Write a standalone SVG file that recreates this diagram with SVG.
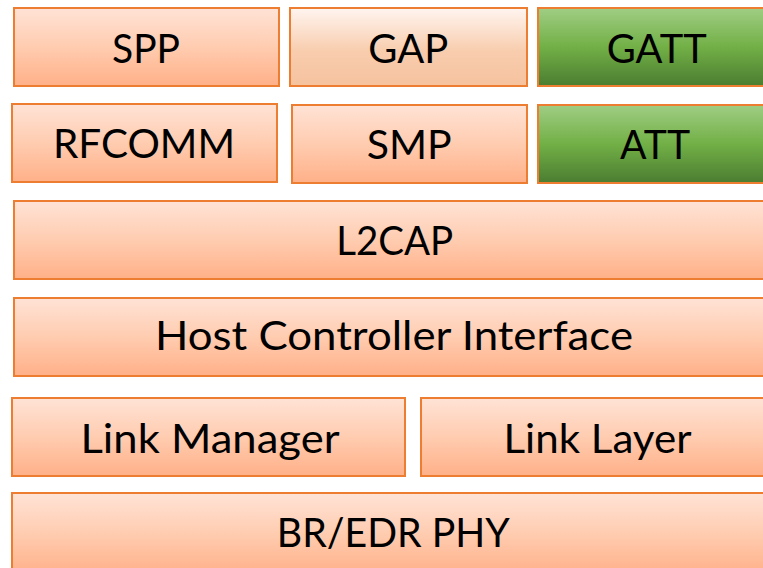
<svg xmlns="http://www.w3.org/2000/svg" width="763" height="568" viewBox="0 0 763 568">
  <defs>
    <linearGradient id="orange" x1="0" y1="0" x2="0" y2="1">
      <stop offset="0" stop-color="#FFE3D6"/>
      <stop offset="0.5" stop-color="#FFCCB0"/>
      <stop offset="1" stop-color="#FFB088"/>
    </linearGradient>
    <linearGradient id="tan" x1="0" y1="0" x2="0" y2="1">
      <stop offset="0" stop-color="#FFF5F0"/>
      <stop offset="0.55" stop-color="#F8CDAE"/>
      <stop offset="1" stop-color="#F6C29E"/>
    </linearGradient>
    <linearGradient id="green" x1="0" y1="0" x2="0" y2="1">
      <stop offset="0" stop-color="#A0CD84"/>
      <stop offset="0.5" stop-color="#72B046"/>
      <stop offset="1" stop-color="#4B7C31"/>
    </linearGradient>
  </defs>
  <style>
    .box { stroke: #ED7D31; stroke-width: 2; }
    .o { fill: url(#orange); }
    .t { fill: url(#tan); }
    .g { fill: url(#green); }
    text { font-family: Lato, "Liberation Sans", sans-serif; font-size: 40px; fill: #000; text-anchor: middle; }
  </style>
  <rect x="0" y="0" width="763" height="568" fill="#fff"/>
  <g id="spp"><rect class="box o" x="14" y="8" width="265" height="78"/><text x="146" y="63" textLength="68" lengthAdjust="spacingAndGlyphs">SPP</text></g>
  <g id="gap"><rect class="box t" x="290" y="8" width="237" height="78"/><text x="408.3" y="63" textLength="80" lengthAdjust="spacingAndGlyphs">GAP</text></g>
  <g id="gatt"><rect class="box g" x="538" y="8" width="236" height="78"/><text x="656.7" y="63" textLength="100" lengthAdjust="spacingAndGlyphs">GATT</text></g>
  <g id="rfcomm"><rect class="box o" x="12" y="104" width="265" height="78"/><text x="144" y="158" textLength="182" lengthAdjust="spacingAndGlyphs">RFCOMM</text></g>
  <g id="smp"><rect class="box o" x="292" y="105" width="235" height="78"/><text x="409.2" y="159" textLength="85" lengthAdjust="spacingAndGlyphs">SMP</text></g>
  <g id="att"><rect class="box g" x="538" y="105" width="236" height="78"/><text x="655" y="159" textLength="70" lengthAdjust="spacingAndGlyphs">ATT</text></g>
  <g id="l2cap"><rect class="box o" x="14" y="201" width="760" height="78"/><text x="394.7" y="255" textLength="117" lengthAdjust="spacingAndGlyphs">L2CAP</text></g>
  <g id="hci"><rect class="box o" x="14" y="298" width="760" height="78"/><text x="394" y="350" textLength="478" lengthAdjust="spacingAndGlyphs">Host Controller Interface</text></g>
  <g id="link-manager"><rect class="box o" x="12" y="398" width="393" height="78"/><text x="210" y="453" textLength="259" lengthAdjust="spacingAndGlyphs">Link Manager</text></g>
  <g id="link-layer"><rect class="box o" x="421" y="398" width="353" height="78"/><text x="597.5" y="453" textLength="188" lengthAdjust="spacingAndGlyphs">Link Layer</text></g>
  <g id="br-edr-phy"><rect class="box o" x="12" y="493" width="762" height="82"/><text x="393.3" y="547" textLength="233" lengthAdjust="spacingAndGlyphs">BR/EDR PHY</text></g>
  <g id="connectors"/>
</svg>
